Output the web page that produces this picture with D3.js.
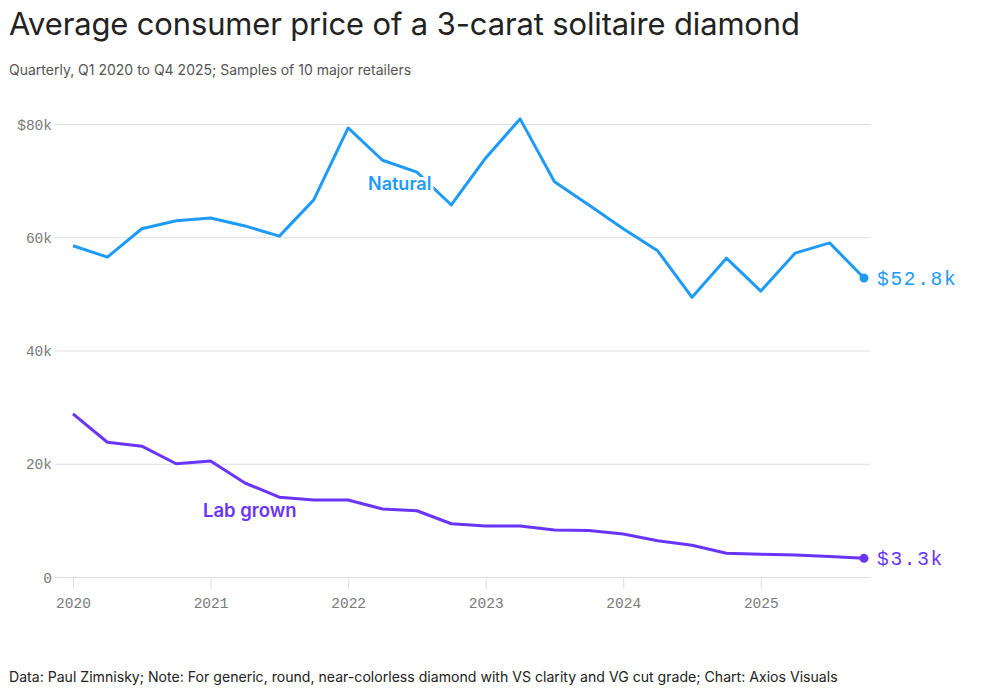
<!DOCTYPE html>
<html>
<head>
<meta charset="utf-8">
<style>
body { margin: 0; background: #fff; }
svg text { font-family: Inter, "Noto Sans", sans-serif; }
.tick text { font-family: "Liberation Mono", "DejaVu Sans Mono", monospace; fill: #7a7a7a; font-size: 14.5px; }
.grid line { stroke: #ddd; }
.domain { display: none; }
</style>
</head>
<body>
<svg width="984" height="688"></svg>
<script src="https://d3js.org/d3.v7.min.js"></script>
<script>

// quarterly, Q1 2020 .. Q4 2025 (thousands of dollars)
var quarters = d3.range(24).map(function(i) { return 2020 + i / 4; });
var natural = [58.5, 56.5, 61.5, 62.9, 63.4, 62.0, 60.2, 66.6,
               79.3, 73.6, 71.5, 65.7, 74.0, 80.9, 69.8, 65.7,
               61.5, 57.6, 49.4, 56.3, 50.5, 57.2, 59.0, 52.8];
var labGrown = [28.8, 23.8, 23.1, 20.0, 20.5, 16.6, 14.1, 13.6,
                13.6, 12.0, 11.7, 9.4, 9.0, 9.0, 8.3, 8.2,
                7.6, 6.4, 5.6, 4.2, 4.0, 3.9, 3.6, 3.3];
var yearTicks = [2020, 2021, 2022, 2023, 2024, 2025];
var valueTicks = [0, 20, 40, 60, 80];

var svg = d3.select("svg");

var x = d3.scaleLinear().domain([2020, 2025.75]).range([73, 864]);
var y = d3.scaleLinear().domain([0, 80]).range([577, 124]);

svg.append("text")
    .attr("x", 9).attr("y", 35)
    .attr("fill", "#222")
    .style("font-size", "30.9px")
    .style("letter-spacing", "-0.1px")
    .text("Average consumer price of a 3-carat solitaire diamond");

svg.append("text")
    .attr("x", 9).attr("y", 75)
    .attr("fill", "#555")
    .style("font-size", "14px")
    .text("Quarterly, Q1 2020 to Q4 2025; Samples of 10 major retailers");

svg.append("text")
    .attr("x", 9).attr("y", 682)
    .attr("fill", "#222")
    .style("font-size", "14.1px")
    .text("Data: Paul Zimnisky; Note: For generic, round, near-colorless diamond with VS clarity and VG cut grade; Chart: Axios Visuals");

// y grid + labels
var yAxis = svg.append("g")
    .attr("class", "grid")
    .attr("transform", "translate(870,0)")
    .call(d3.axisLeft(y).tickValues(valueTicks).tickSize(815).tickPadding(3)
      .tickFormat(function(d) { return d === 80 ? "$80k" : d === 0 ? "0" : d + "k"; }));
yAxis.selectAll(".tick text").attr("dy", "0.35em");

// x ticks
svg.append("g")
    .attr("class", "grid")
    .attr("transform", "translate(0,577)")
    .call(d3.axisBottom(x).tickValues(yearTicks).tickSize(12).tickPadding(9)
      .tickFormat(d3.format("d")));

var line = d3.line()
    .x(function(d, i) { return x(quarters[i]); })
    .y(function(d) { return y(d); });

var series = [
  { name: "Natural", values: natural, color: "#1e9bf7", label: "$52.8k" },
  { name: "Lab grown", values: labGrown, color: "#6a35fb", label: "$3.3k" }
];

series.forEach(function(s) {
  svg.append("path")
      .datum(s.values)
      .attr("fill", "none")
      .attr("stroke", s.color)
      .attr("stroke-width", 3)
      .attr("stroke-linejoin", "round")
      .attr("d", line);

  var last = s.values.length - 1;
  svg.append("circle")
      .attr("cx", x(quarters[last]))
      .attr("cy", y(s.values[last]))
      .attr("r", 4.5)
      .attr("fill", s.color);

  svg.append("text")
      .attr("x", x(quarters[last]) + 13)
      .attr("y", y(s.values[last]))
      .attr("dy", "0.35em")
      .attr("fill", s.color)
      .style("font-family", "'Liberation Mono', monospace")
      .style("font-size", "19.5px")
      .style("letter-spacing", "1.7px")
      .text(s.label);
});

// series labels
svg.append("text")
    .attr("x", 368).attr("y", 190)
    .attr("fill", "#1e9bf7")
    .attr("stroke", "#fff").attr("stroke-width", 6).attr("paint-order", "stroke")
    .style("font-size", "18px").style("font-weight", 600)
    .text("Natural");

svg.append("text")
    .attr("x", 203).attr("y", 517)
    .attr("fill", "#6a35fb")
    .attr("stroke", "#fff").attr("stroke-width", 6).attr("paint-order", "stroke")
    .style("font-size", "18.5px").style("font-weight", 600)
    .text("Lab grown");

</script>
</body>
</html>
